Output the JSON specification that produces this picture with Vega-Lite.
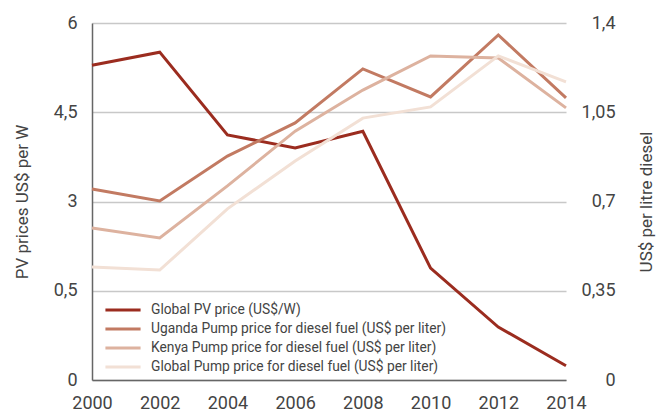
{
  "$schema": "https://vega.github.io/schema/vega-lite/v6.json",
  "width": 474,
  "height": 357,
  "autosize": {"type": "none"},
  "padding": {"left": 92, "top": 23, "right": 94, "bottom": 34},
  "background": "white",
  "config": {
    "font": "Roboto",
    "view": {"stroke": null},
    "axis": {"labelColor": "#444", "titleColor": "#444", "labelFont": "Roboto", "titleFont": "Roboto", "titleFontWeight": "normal"}
  },
  "data": {
    "values": [
      {"year": 2000, "series": "Global PV price (US$/W)", "kind": "pv", "value": 5.29},
      {"year": 2002, "series": "Global PV price (US$/W)", "kind": "pv", "value": 5.51},
      {"year": 2004, "series": "Global PV price (US$/W)", "kind": "pv", "value": 4.12},
      {"year": 2006, "series": "Global PV price (US$/W)", "kind": "pv", "value": 3.9},
      {"year": 2008, "series": "Global PV price (US$/W)", "kind": "pv", "value": 4.18},
      {"year": 2010, "series": "Global PV price (US$/W)", "kind": "pv", "value": 1.88},
      {"year": 2012, "series": "Global PV price (US$/W)", "kind": "pv", "value": 0.89},
      {"year": 2014, "series": "Global PV price (US$/W)", "kind": "pv", "value": 0.24},
      {"year": 2000, "series": "Uganda Pump price for diesel fuel (US$ per liter)", "kind": "diesel", "value": 0.749},
      {"year": 2002, "series": "Uganda Pump price for diesel fuel (US$ per liter)", "kind": "diesel", "value": 0.702},
      {"year": 2004, "series": "Uganda Pump price for diesel fuel (US$ per liter)", "kind": "diesel", "value": 0.878},
      {"year": 2006, "series": "Uganda Pump price for diesel fuel (US$ per liter)", "kind": "diesel", "value": 1.008},
      {"year": 2008, "series": "Uganda Pump price for diesel fuel (US$ per liter)", "kind": "diesel", "value": 1.22},
      {"year": 2010, "series": "Uganda Pump price for diesel fuel (US$ per liter)", "kind": "diesel", "value": 1.11},
      {"year": 2012, "series": "Uganda Pump price for diesel fuel (US$ per liter)", "kind": "diesel", "value": 1.353},
      {"year": 2014, "series": "Uganda Pump price for diesel fuel (US$ per liter)", "kind": "diesel", "value": 1.106},
      {"year": 2000, "series": "Kenya Pump price for diesel fuel (US$ per liter)", "kind": "diesel", "value": 0.596},
      {"year": 2002, "series": "Kenya Pump price for diesel fuel (US$ per liter)", "kind": "diesel", "value": 0.557},
      {"year": 2004, "series": "Kenya Pump price for diesel fuel (US$ per liter)", "kind": "diesel", "value": 0.761},
      {"year": 2006, "series": "Kenya Pump price for diesel fuel (US$ per liter)", "kind": "diesel", "value": 0.976},
      {"year": 2008, "series": "Kenya Pump price for diesel fuel (US$ per liter)", "kind": "diesel", "value": 1.137},
      {"year": 2010, "series": "Kenya Pump price for diesel fuel (US$ per liter)", "kind": "diesel", "value": 1.271},
      {"year": 2012, "series": "Kenya Pump price for diesel fuel (US$ per liter)", "kind": "diesel", "value": 1.263},
      {"year": 2014, "series": "Kenya Pump price for diesel fuel (US$ per liter)", "kind": "diesel", "value": 1.067},
      {"year": 2000, "series": "Global Pump price for diesel fuel (US$ per liter)", "kind": "diesel", "value": 0.443},
      {"year": 2002, "series": "Global Pump price for diesel fuel (US$ per liter)", "kind": "diesel", "value": 0.431},
      {"year": 2004, "series": "Global Pump price for diesel fuel (US$ per liter)", "kind": "diesel", "value": 0.671},
      {"year": 2006, "series": "Global Pump price for diesel fuel (US$ per liter)", "kind": "diesel", "value": 0.859},
      {"year": 2008, "series": "Global Pump price for diesel fuel (US$ per liter)", "kind": "diesel", "value": 1.027},
      {"year": 2010, "series": "Global Pump price for diesel fuel (US$ per liter)", "kind": "diesel", "value": 1.071},
      {"year": 2012, "series": "Global Pump price for diesel fuel (US$ per liter)", "kind": "diesel", "value": 1.271},
      {"year": 2014, "series": "Global Pump price for diesel fuel (US$ per liter)", "kind": "diesel", "value": 1.169}
    ]
  },
  "encoding": {
    "x": {
      "field": "year", "type": "quantitative",
      "scale": {"domain": [2000, 2014], "nice": false, "zero": false},
      "axis": {
        "values": [2000, 2002, 2004, 2006, 2008, 2010, 2012, 2014],
        "format": "d", "title": null, "grid": false, "ticks": false,
        "domainColor": "#666", "domainWidth": 1.5,
        "labelFontSize": 18, "labelPadding": 14, "labelFlush": false
      }
    },
    "color": {
      "field": "series", "type": "nominal",
      "scale": {
        "domain": ["Global PV price (US$/W)", "Uganda Pump price for diesel fuel (US$ per liter)", "Kenya Pump price for diesel fuel (US$ per liter)", "Global Pump price for diesel fuel (US$ per liter)"],
        "range": ["#9b2c1f", "#c27a62", "#ddb29f", "#f2e0d5"]
      },
      "legend": {
        "title": null, "orient": "none", "legendX": 23, "legendY": 279,
        "symbolType": "M-2.87,0H2.87", "symbolSize": 150, "symbolStrokeWidth": 3,
        "labelFontSize": 13.8, "labelColor": "#444", "labelFont": "Roboto",
        "rowPadding": 4, "labelOffset": 20, "labelLimit": 400,
        "padding": 0
      }
    }
  },
  "layer": [
    {
      "transform": [{"filter": "datum.kind == 'pv'"}],
      "mark": {"type": "line", "strokeWidth": 3},
      "encoding": {
        "y": {
          "field": "value", "type": "quantitative",
          "scale": {"domain": [0, 6], "nice": false},
          "axis": {
            "values": [0, 1.5, 3, 4.5, 6],
            "labelExpr": "datum.value == 1.5 ? '0,5' : replace(format(datum.value, '~g'), '.', ',')",
            "title": "PV prices US$ per W", "titleFontSize": 17, "titlePadding": 22,
            "labelFontSize": 18, "labelPadding": 15, "ticks": false,
            "grid": true, "gridColor": "#c8c8c8", "gridWidth": 1.5,
            "domainColor": "#666", "domainWidth": 1.5
          }
        }
      }
    },
    {
      "transform": [{"filter": "datum.kind == 'diesel'"}],
      "mark": {"type": "line", "strokeWidth": 3},
      "encoding": {
        "y": {
          "field": "value", "type": "quantitative",
          "scale": {"domain": [0, 1.4], "nice": false},
          "axis": {
            "orient": "right",
            "values": [0, 0.35, 0.7, 1.05, 1.4],
            "labelExpr": "replace(format(datum.value, '~g'), '.', ',')",
            "title": "US$ per litre diesel", "titleFontSize": 17, "titlePadding": 40, "titleAngle": 270,
            "labelFontSize": 18, "labelPadding": 49, "labelAlign": "right", "ticks": false,
            "grid": false, "domain": false
          }
        }
      }
    }
  ],
  "resolve": {"scale": {"y": "independent"}}
}
